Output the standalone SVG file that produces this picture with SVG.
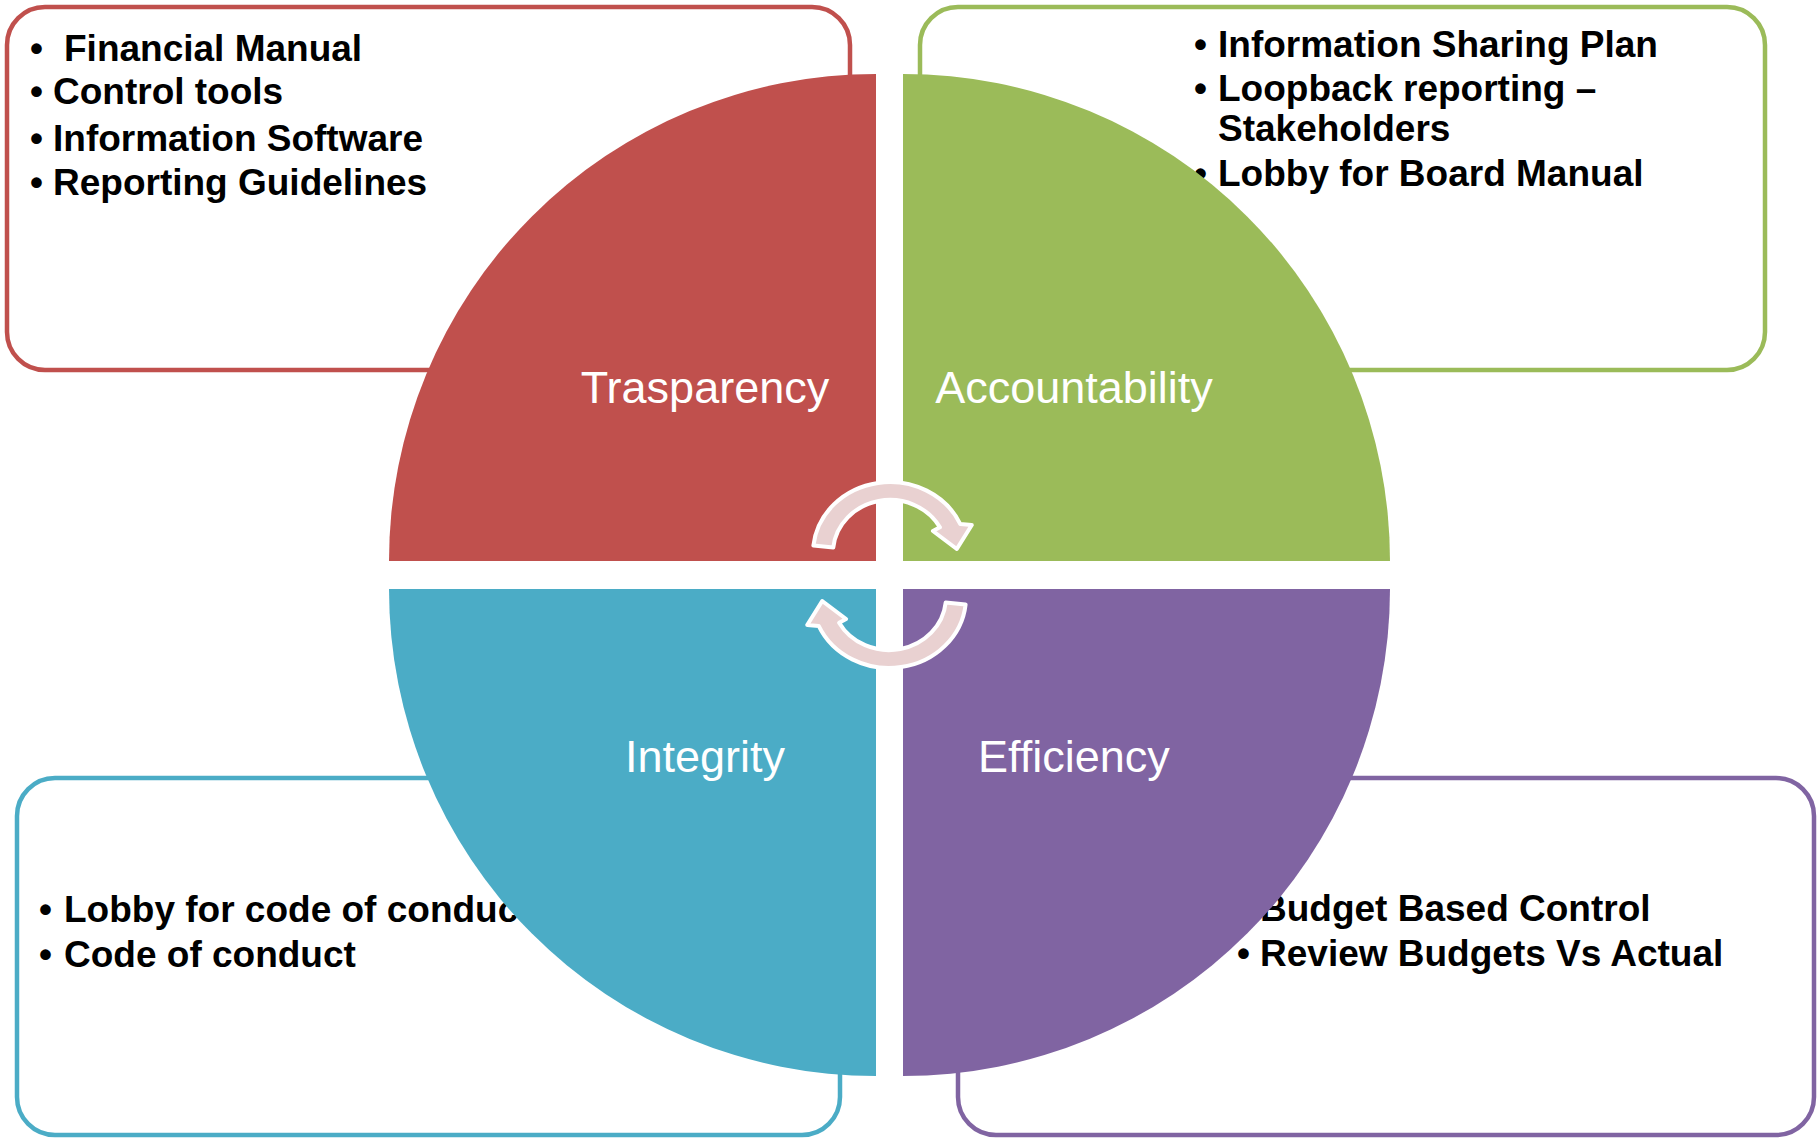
<svg xmlns="http://www.w3.org/2000/svg" width="1820" height="1138" viewBox="0 0 1820 1138">
  <style>
    .box { fill: #FFFFFF; stroke-width: 4.5; }
    .item { font-family: "Liberation Sans", Arial, sans-serif; font-weight: bold; font-size: 37px; fill: #000000; }
    .label { font-family: "Liberation Sans", Arial, sans-serif; font-size: 45px; fill: #FFFFFF; text-anchor: middle; }
    .cyc { fill: #E9D1D1; stroke: #FFFFFF; stroke-width: 4; stroke-linejoin: round; }
  </style>
  <defs>
    <path id="cycArrow" d="M813.4,545.6 A77,71 0 0 1 960.3,524.1 L971.8,525 L956.8,549 L932.9,531 L939.9,527.3 A57,53 0 0 0 833.3,547.5 Z"/>
  </defs>
  <rect x="0" y="0" width="1820" height="1138" fill="#FFFFFF"/>

  <g id="box-transparency">
    <rect class="box" x="7" y="7" width="843" height="363" rx="38" ry="38" stroke="#C0504D"/>
    <text class="item" y="61"><tspan x="30">•</tspan><tspan x="64">Financial Manual</tspan></text>
    <text class="item" y="104"><tspan x="30">•</tspan><tspan x="53">Control tools</tspan></text>
    <text class="item" y="151"><tspan x="30">•</tspan><tspan x="53">Information Software</tspan></text>
    <text class="item" y="195"><tspan x="30">•</tspan><tspan x="53">Reporting Guidelines</tspan></text>
  </g>

  <g id="box-accountability">
    <rect class="box" x="920" y="7" width="845" height="363" rx="38" ry="38" stroke="#9BBB59"/>
    <text class="item" y="57"><tspan x="1194">•</tspan><tspan x="1218">Information Sharing Plan</tspan></text>
    <text class="item" y="101"><tspan x="1194">•</tspan><tspan x="1218">Loopback reporting –</tspan></text>
    <text class="item" y="141"><tspan x="1218">Stakeholders</tspan></text>
    <text class="item" y="186"><tspan x="1194">•</tspan><tspan x="1218">Lobby for Board Manual</tspan></text>
  </g>

  <g id="box-integrity">
    <rect class="box" x="17" y="778" width="823" height="357" rx="38" ry="38" stroke="#4BACC6"/>
    <text class="item" y="922"><tspan x="39">•</tspan><tspan x="64">Lobby for code of conduct</tspan></text>
    <text class="item" y="967"><tspan x="39">•</tspan><tspan x="64">Code of conduct</tspan></text>
  </g>

  <g id="box-efficiency">
    <rect class="box" x="958" y="778" width="856" height="357" rx="38" ry="38" stroke="#8064A2"/>
    <text class="item" y="921"><tspan x="1237">•</tspan><tspan x="1260">Budget Based Control</tspan></text>
    <text class="item" y="966"><tspan x="1237">•</tspan><tspan x="1260">Review Budgets Vs Actual</tspan></text>
  </g>

  <g id="quad-transparency">
    <path d="M876,561 L389,561 A487,487 0 0 1 876,74 Z" fill="#C0504D"/>
    <text class="label" x="705" y="403">Trasparency</text>
  </g>
  <g id="quad-accountability">
    <path d="M903,561 L903,74 A487,487 0 0 1 1390,561 Z" fill="#9BBB59"/>
    <text class="label" x="1074" y="403">Accountability</text>
  </g>
  <g id="quad-integrity">
    <path d="M876,589 L389,589 A487,487 0 0 0 876,1076 Z" fill="#4BACC6"/>
    <text class="label" x="705" y="772">Integrity</text>
  </g>
  <g id="quad-efficiency">
    <path d="M903,589 L1390,589 A487,487 0 0 1 903,1076 Z" fill="#8064A2"/>
    <text class="label" x="1074" y="772">Efficiency</text>
  </g>

  <g id="connectors">
    <use href="#cycArrow" class="cyc"/>
    <use href="#cycArrow" class="cyc" transform="rotate(180 889.5 575)"/>
  </g>
</svg>
